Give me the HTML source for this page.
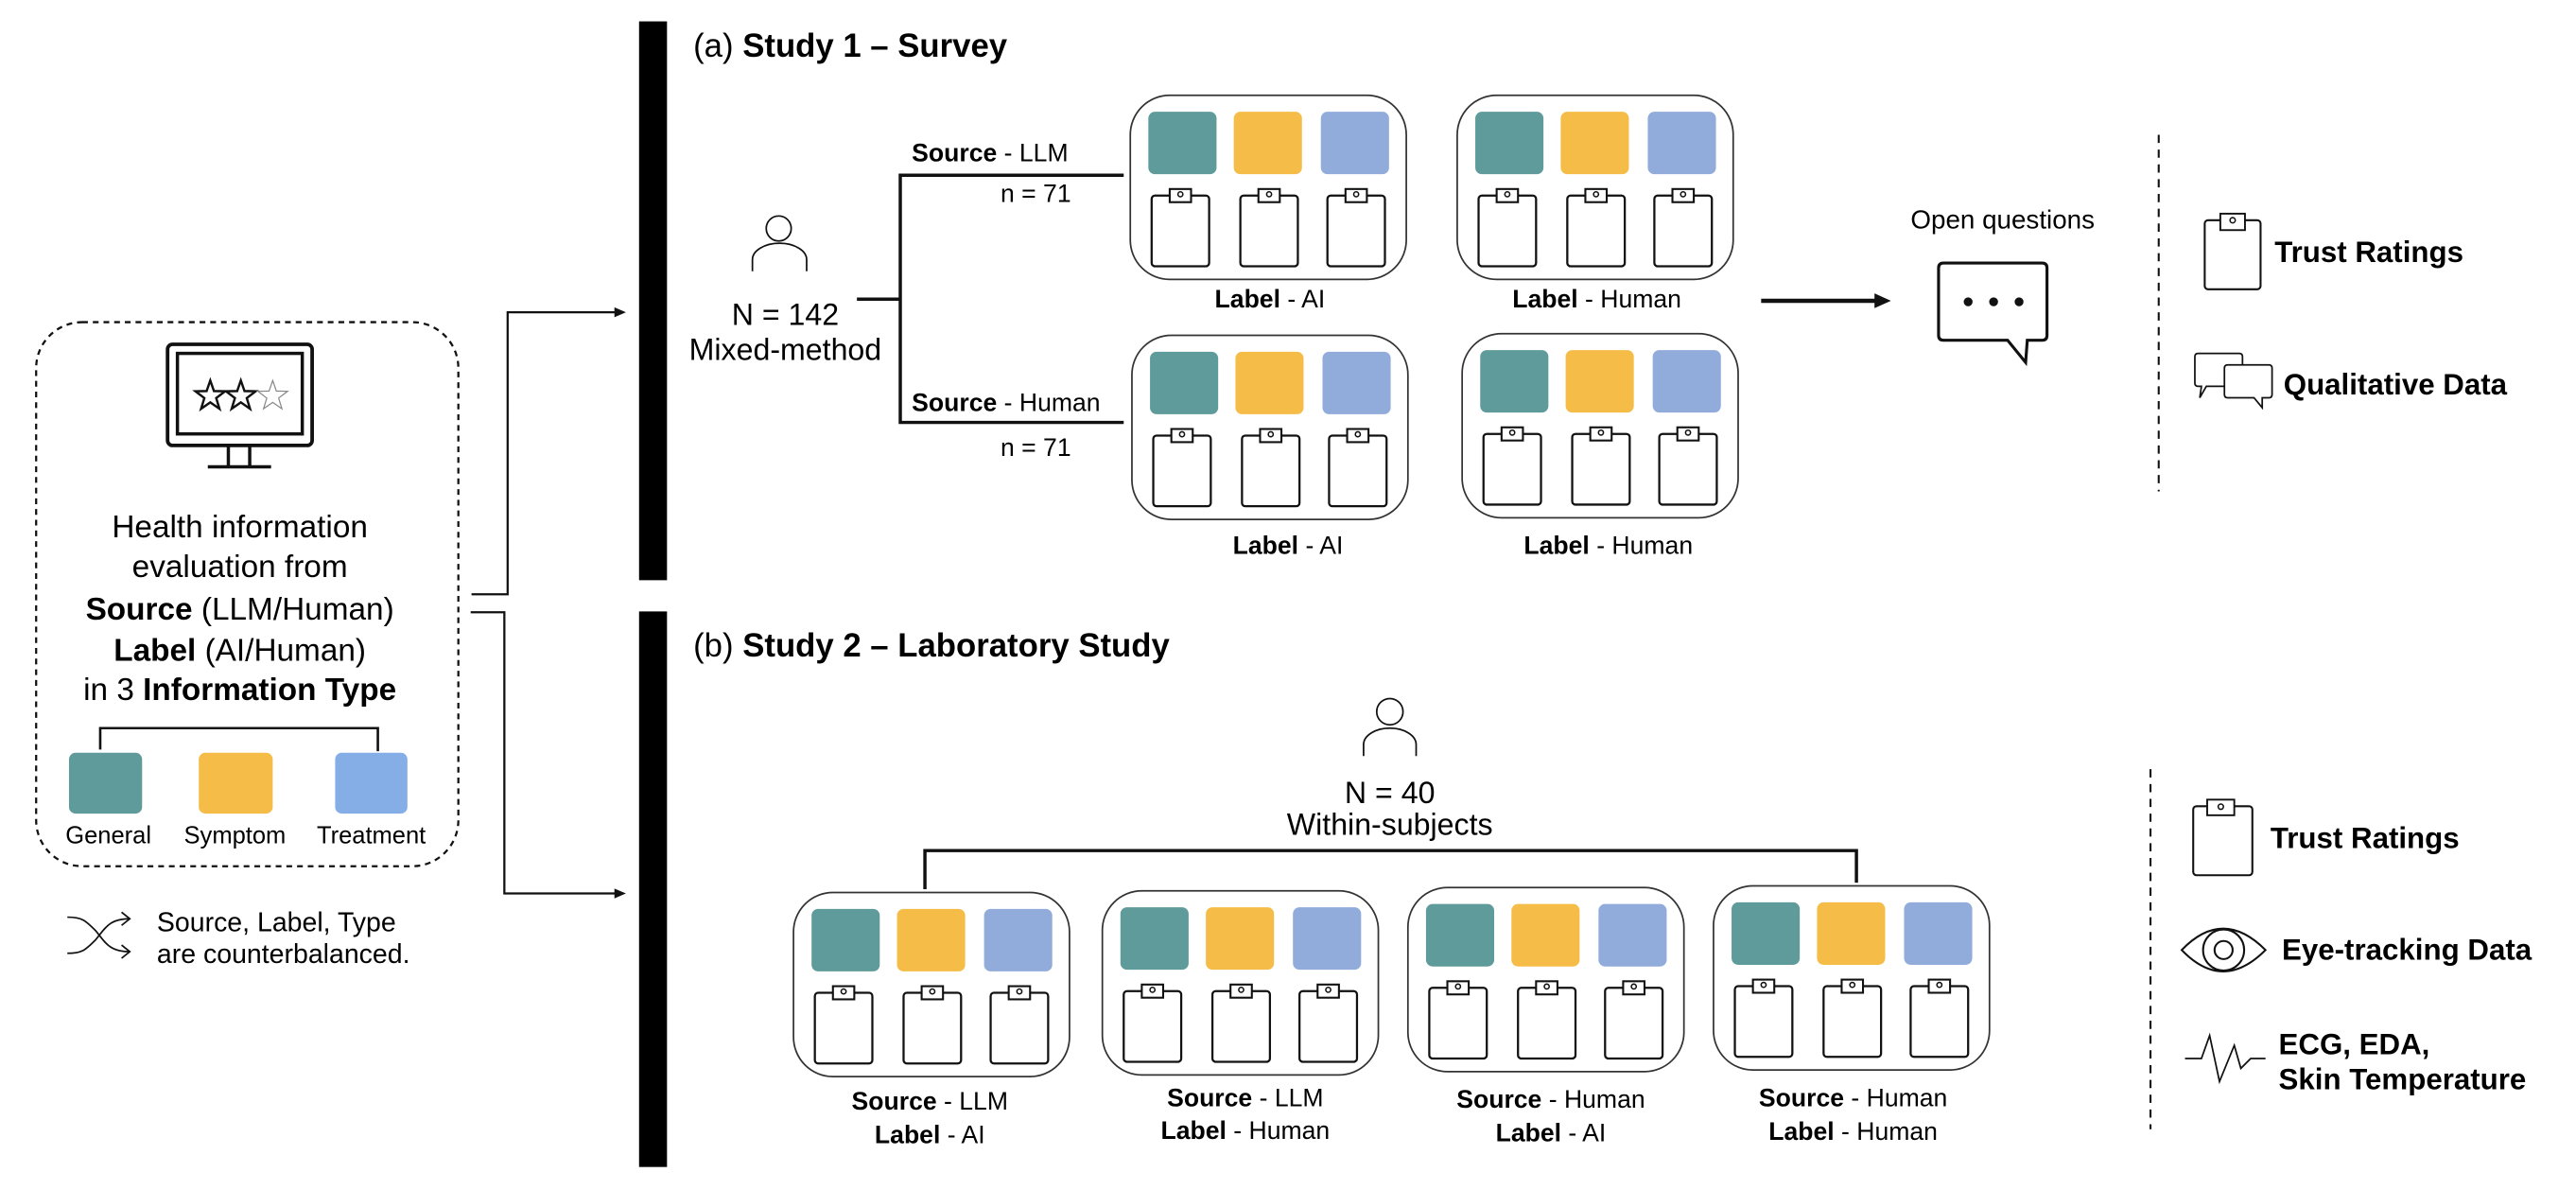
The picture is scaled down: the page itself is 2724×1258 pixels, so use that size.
<!DOCTYPE html>
<html><head><meta charset="utf-8"><style>html,body{margin:0;padding:0;background:#fff}svg{display:block}</style></head>
<body>
<svg width="2724" height="1258" viewBox="0 0 1568 724" preserveAspectRatio="none" xmlns="http://www.w3.org/2000/svg" font-family="Liberation Sans, Arial, sans-serif">
<defs>
<g id="clip">
<rect x="0" y="4" width="35" height="43" rx="2" fill="#fff" stroke="#111" stroke-width="1.3"/>
<rect x="11" y="0" width="13" height="8" fill="#fff" stroke="#111" stroke-width="1.2"/>
<circle cx="17.5" cy="3.2" r="1.5" fill="none" stroke="#111" stroke-width="0.9"/>
</g>
<g id="mod">
<rect x="0" y="0" width="168" height="112" rx="24" fill="#fff" stroke="#333" stroke-width="1"/>
<rect x="11" y="10" width="41.5" height="38" rx="4" fill="#5e9b9a"/>
<rect x="63" y="10" width="41.5" height="38" rx="4" fill="#f5bd48"/>
<rect x="116" y="10" width="41.5" height="38" rx="4" fill="#91abdb"/>
<use href="#clip" x="13" y="57"/>
<use href="#clip" x="67" y="57"/>
<use href="#clip" x="120" y="57"/>
</g>
</defs>

<!-- LEFT PANEL -->
<rect x="22" y="196" width="257" height="331" rx="28" fill="none" stroke="#111" stroke-width="1.3" stroke-dasharray="3.5,3"/>
<rect x="102" y="209.5" width="88" height="61.5" rx="3" fill="none" stroke="#111" stroke-width="2.2"/>
<rect x="108" y="215" width="76" height="49" fill="none" stroke="#111" stroke-width="2"/>
<line x1="139" y1="271" x2="139" y2="284" stroke="#111" stroke-width="2"/>
<line x1="152" y1="271" x2="152" y2="284" stroke="#111" stroke-width="2"/>
<line x1="126.5" y1="284" x2="165" y2="284" stroke="#111" stroke-width="2"/>
<g transform="translate(128,241)"><polygon points="0,-9.5 2.23,-3.08 9.03,-2.94 3.61,1.18 5.59,7.69 0,3.8 -5.59,7.69 -3.61,1.18 -9.03,-2.94 -2.23,-3.08" fill="none" stroke="#111" stroke-width="1.4"/></g>
<g transform="translate(146.6,241)"><polygon points="0,-9.5 2.23,-3.08 9.03,-2.94 3.61,1.18 5.59,7.69 0,3.8 -5.59,7.69 -3.61,1.18 -9.03,-2.94 -2.23,-3.08" fill="none" stroke="#111" stroke-width="1.4"/></g>
<g transform="translate(166,241)"><polygon points="0,-9.5 2.23,-3.08 9.03,-2.94 3.61,1.18 5.59,7.69 0,3.8 -5.59,7.69 -3.61,1.18 -9.03,-2.94 -2.23,-3.08" fill="none" stroke="#888" stroke-width="0.7"/></g>

<g font-size="19.2" text-anchor="middle" fill="#000">
<text x="146" y="327">Health information</text>
<text x="146" y="351">evaluation from</text>
<text x="146" y="377"><tspan font-weight="bold">Source</tspan> (LLM/Human)</text>
<text x="146" y="402"><tspan font-weight="bold">Label</tspan> (AI/Human)</text>
<text x="146" y="426">in 3 <tspan font-weight="bold">Information Type</tspan></text>
</g>
<polyline points="61,456 61,443 230,443 230,457" fill="none" stroke="#111" stroke-width="1.5"/>
<rect x="42" y="458" width="44.5" height="37" rx="4" fill="#5e9b9a"/>
<rect x="121" y="458" width="45" height="37" rx="4" fill="#f5bd48"/>
<rect x="204" y="458" width="44" height="37" rx="4" fill="#86aee6"/>
<g font-size="14.7" text-anchor="middle"><text x="66" y="513">General</text><text x="143" y="513">Symptom</text><text x="226" y="513">Treatment</text></g>

<g fill="none" stroke="#111" stroke-width="1">
<path d="M41,558 C50,558 52,560 58,566 C64,573 66,579 79,579"/>
<path d="M41,580 C50,580 52,578 58,572 C64,565 66,559 79,559"/>
<path d="M74,555 L79,559 L74,563"/>
<path d="M74,575 L79,579 L74,583"/>
</g>
<g font-size="16.4"><text x="95.5" y="566.5">Source, Label, Type</text><text x="95.5" y="586">are counterbalanced.</text></g>

<!-- connectors -->
<polyline points="287,361.6 309,361.6 309,190 377,190" fill="none" stroke="#111" stroke-width="1.3"/>
<polygon points="381,190 374,187 374,193" fill="#111"/>
<polyline points="286.5,372.5 307,372.5 307,543.6 377,543.6" fill="none" stroke="#111" stroke-width="1.3"/>
<polygon points="381,543.6 374,540.6 374,546.6" fill="#111"/>

<!-- bars -->
<rect x="389" y="13" width="17" height="340" fill="#000"/>
<rect x="389" y="372" width="17" height="338" fill="#000"/>

<!-- STUDY 1 -->
<text x="422" y="34.5" font-size="20">(a) <tspan font-weight="bold">Study 1 – Survey</tspan></text>
<circle cx="474" cy="139" r="7.6" fill="none" stroke="#111" stroke-width="1"/>
<path d="M458,165 V158 A16.5,10 0 0 1 491,158 V165" fill="none" stroke="#111" stroke-width="1"/>
<g font-size="18.5" text-anchor="middle"><text x="478" y="197.6">N = 142</text><text x="478" y="219">Mixed-method</text></g>
<line x1="521.6" y1="182" x2="548" y2="182" stroke="#111" stroke-width="2"/>
<polyline points="684,106.6 548,106.6 548,257 684,257" fill="none" stroke="#111" stroke-width="2"/>
<g font-size="15.3">
<text x="555" y="98"><tspan font-weight="bold">Source</tspan> - LLM</text>
<text x="609" y="123">n = 71</text>
<text x="555" y="250"><tspan font-weight="bold">Source</tspan> - Human</text>
<text x="609" y="277.5">n = 71</text>
</g>
<use href="#mod" x="688" y="58"/>
<use href="#mod" x="887" y="58"/>
<use href="#mod" x="689" y="204"/>
<use href="#mod" x="890" y="203"/>
<g font-size="15.3" text-anchor="middle">
<text x="773" y="187"><tspan font-weight="bold">Label</tspan> - AI</text>
<text x="972" y="187"><tspan font-weight="bold">Label</tspan> - Human</text>
<text x="784" y="337"><tspan font-weight="bold">Label</tspan> - AI</text>
<text x="979" y="337"><tspan font-weight="bold">Label</tspan> - Human</text>
</g>
<line x1="1072" y1="183" x2="1143" y2="183" stroke="#111" stroke-width="2.6"/>
<polygon points="1151,183 1141,178.5 1141,187.5" fill="#111"/>
<text x="1219" y="139" font-size="16" text-anchor="middle">Open questions</text>
<path d="M1183,160 H1243 Q1246,160 1246,163 V204 Q1246,207 1243,207 H1234 L1233,220.5 L1222,207 H1183 Q1180,207 1180,204 V163 Q1180,160 1183,160 Z" fill="#fff" stroke="#111" stroke-width="1.8"/>
<circle cx="1198" cy="183.6" r="2.7" fill="#111"/><circle cx="1213.5" cy="183.6" r="2.7" fill="#111"/><circle cx="1229" cy="183.6" r="2.7" fill="#111"/>
<line x1="1314" y1="82" x2="1314" y2="299" stroke="#111" stroke-width="1.2" stroke-dasharray="5,4"/>
<g transform="translate(1342,130)">
<rect x="0" y="4" width="34" height="42" rx="2" fill="#fff" stroke="#111" stroke-width="1.2"/>
<rect x="9.5" y="0" width="15" height="10" fill="#fff" stroke="#111" stroke-width="1.1"/>
<circle cx="17" cy="4" r="1.6" fill="none" stroke="#111" stroke-width="0.9"/>
</g>
<text x="1384.5" y="159.3" font-size="18" font-weight="bold">Trust Ratings</text>
<path d="M1338,215 H1363 Q1365,215 1365,217 V233 Q1365,235 1363,235 H1343 L1339,242 L1340,235 H1338 Q1336,235 1336,233 V217 Q1336,215 1338,215 Z" fill="#fff" stroke="#111" stroke-width="1"/>
<path d="M1356,222 H1381 Q1383,222 1383,224 V240 Q1383,242 1381,242 H1377 L1377,248 L1372,242 H1356 Q1354,242 1354,240 V224 Q1354,222 1356,222 Z" fill="#fff" stroke="#111" stroke-width="1"/>
<text x="1390" y="240" font-size="18" font-weight="bold">Qualitative Data</text>

<!-- STUDY 2 -->
<text x="422" y="399.5" font-size="20">(b) <tspan font-weight="bold">Study 2 – Laboratory Study</tspan></text>
<circle cx="846" cy="433" r="8" fill="none" stroke="#111" stroke-width="1"/>
<path d="M830,460 V453 A16,10 0 0 1 862,453 V460" fill="none" stroke="#111" stroke-width="1"/>
<g font-size="18.5" text-anchor="middle"><text x="846" y="488.7">N = 40</text><text x="846" y="508">Within-subjects</text></g>
<polyline points="563,541 563,517.5 1130,517.5 1130,537" fill="none" stroke="#111" stroke-width="2"/>
<use href="#mod" x="483" y="543"/>
<use href="#mod" x="671" y="542"/>
<use href="#mod" x="857" y="540"/>
<use href="#mod" x="1043" y="539"/>
<g font-size="15.3" text-anchor="middle">
<text x="566" y="675"><tspan font-weight="bold">Source</tspan> - LLM</text>
<text x="566" y="695.5"><tspan font-weight="bold">Label</tspan> - AI</text>
<text x="758" y="673"><tspan font-weight="bold">Source</tspan> - LLM</text>
<text x="758" y="693"><tspan font-weight="bold">Label</tspan> - Human</text>
<text x="944" y="674"><tspan font-weight="bold">Source</tspan> - Human</text>
<text x="944" y="694.5"><tspan font-weight="bold">Label</tspan> - AI</text>
<text x="1128" y="673"><tspan font-weight="bold">Source</tspan> - Human</text>
<text x="1128" y="693.5"><tspan font-weight="bold">Label</tspan> - Human</text>
</g>
<line x1="1309" y1="468" x2="1309" y2="687" stroke="#111" stroke-width="1.2" stroke-dasharray="5,4"/>
<g transform="translate(1335,486.5)">
<rect x="0" y="4" width="36" height="42" rx="2" fill="#fff" stroke="#111" stroke-width="1.2"/>
<rect x="8.5" y="0" width="16.5" height="9.5" fill="#fff" stroke="#111" stroke-width="1.1"/>
<circle cx="16.8" cy="4.3" r="1.6" fill="none" stroke="#111" stroke-width="0.9"/>
</g>
<text x="1382" y="516" font-size="18" font-weight="bold">Trust Ratings</text>
<path d="M1328,578 Q1353,552 1379,578 Q1353,604 1328,578 Z" fill="none" stroke="#111" stroke-width="1.2"/>
<circle cx="1353.5" cy="578" r="12.5" fill="none" stroke="#111" stroke-width="1.2"/>
<circle cx="1353.5" cy="578" r="5.5" fill="none" stroke="#111" stroke-width="1.2"/>
<text x="1389" y="584" font-size="18" font-weight="bold">Eye-tracking Data</text>
<polyline points="1330,644 1340,644 1345,630 1351,658 1360,636 1364,650 1370,644 1379,644" fill="none" stroke="#111" stroke-width="1"/>
<g font-size="18" font-weight="bold"><text x="1387" y="641.5">ECG, EDA,</text><text x="1387" y="662.7">Skin Temperature</text></g>
</svg>
</body></html>
